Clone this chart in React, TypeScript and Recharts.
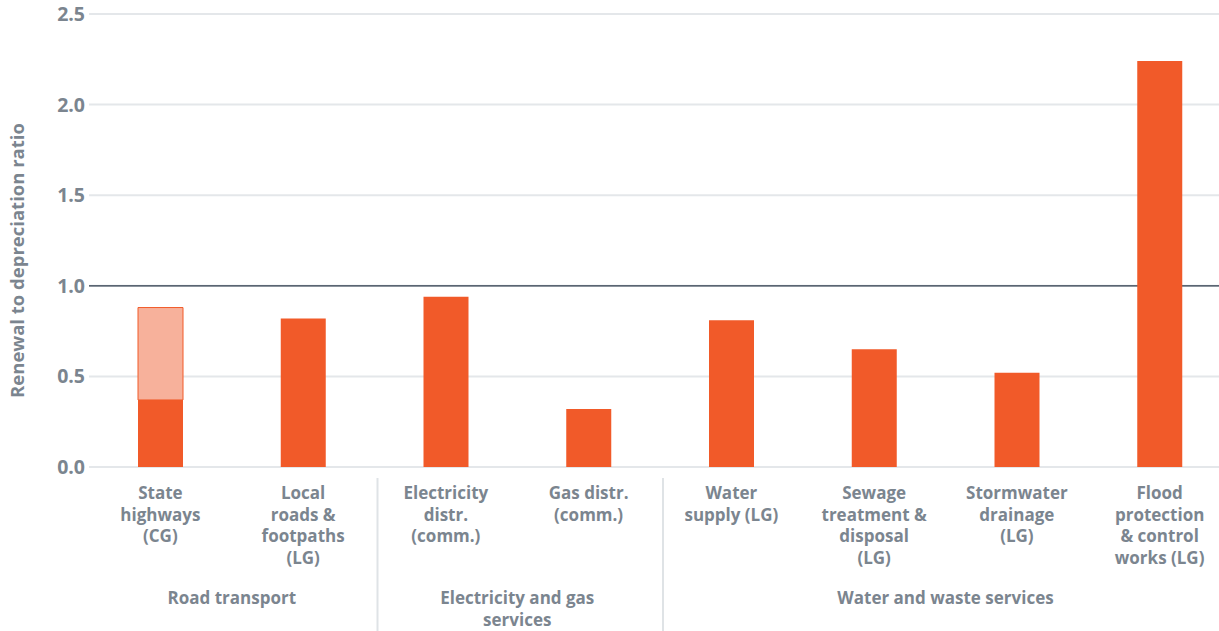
import React from 'react';
import { BarChart, Bar, XAxis, YAxis, CartesianGrid } from 'recharts';

// sector labels, one line per "\n"
const categories = [
  'State\nhighways\n(CG)',
  'Local\nroads &\nfootpaths\n(LG)',
  'Electricity\ndistr.\n(comm.)',
  'Gas distr.\n(comm.)',
  'Water\nsupply (LG)',
  'Sewage\ntreatment &\ndisposal\n(LG)',
  'Stormwater\ndrainage\n(LG)',
  'Flood\nprotection\n& control\nworks (LG)',
];

// renewal to depreciation ratio
const ratio = [0.37, 0.82, 0.94, 0.32, 0.81, 0.65, 0.52, 2.24];
// additional renewal shown on top of state highways
const extra = [0.51, null, null, null, null, null, null, null];

const groupNames = ['Road transport', 'Electricity and gas\nservices', 'Water and waste services'];
const groupSizes = [2, 2, 4];

const yTicks = [0, 0.5, 1, 1.5, 2, 2.5];
const benchmark = [1];

const data = categories.map((name, i) => ({ name, ratio: ratio[i], extra: extra[i] }));

const CHART_W = 1231;
const CHART_H = 631;
const Y_AXIS_W = 89;
const BAND = (CHART_W - Y_AXIS_W) / categories.length;

const ORANGE = '#f15a29';
const LIGHT = '#f7b19b';
const TEXT = '#7b858f';
const FONT = '"Open Sans", Lato, sans-serif';

// first category index of each group
const groupStarts = groupSizes.map((_, g) => groupSizes.slice(0, g).reduce((a, b) => a + b, 0));

const CategoryTick = (props: any) => {
  const { x, y, payload, index } = props;
  const lines = String(payload.value).split('\n');
  const g = groupStarts.indexOf(index);
  let group: React.ReactNode = null;
  if (g >= 0) {
    const cx = x + ((groupSizes[g] - 1) * BAND) / 2;
    const glines = groupNames[g].split('\n');
    group = (
      <g>
        {g > 0 && (
          <line x1={x - BAND / 2 + 3} x2={x - BAND / 2 + 3} y1={y + 3} y2={CHART_H} stroke="#dfe3e6" strokeWidth={2} />
        )}
        <text x={cx} y={y + 129} textAnchor="middle" fill={TEXT} fontSize={17} fontWeight={700} fontFamily={FONT}>
          {glines.map((l, i) => (
            <tspan key={i} x={cx} dy={i === 0 ? 0 : 21.5}>{l}</tspan>
          ))}
        </text>
      </g>
    );
  }
  return (
    <g>
      <text x={x} y={y + 24} textAnchor="middle" fill={TEXT} fontSize={17} fontWeight={700} fontFamily={FONT}>
        {lines.map((l, i) => (
          <tspan key={i} x={x} dy={i === 0 ? 0 : 21.5}>{l}</tspan>
        ))}
      </text>
      {group}
    </g>
  );
};

const YTitle = (props: any) => {
  const { viewBox } = props;
  const cy = viewBox.y + viewBox.height / 2 + 20;
  return (
    <text
      x={16}
      y={cy}
      transform={`rotate(-90, 16, ${cy})`}
      textAnchor="middle"
      dominantBaseline="central"
      fill={TEXT}
      fontSize={18.5}
      fontWeight={700}
      fontFamily={FONT}
    >
      Renewal to depreciation ratio
    </text>
  );
};

export default function App() {
  return (
    <div style={{ position: 'absolute', left: 0, top: 0, width: 1219, height: 631, overflow: 'hidden', background: '#fff' }}>
      <BarChart
        width={CHART_W}
        height={CHART_H}
        data={data}
        margin={{ top: 14, right: 0, bottom: 0, left: 0 }}
        barSize={45}
      >
        <CartesianGrid vertical={false} stroke="#e4e7ea" strokeWidth={2} />
        {/* ratio of 1.0 drawn behind the bars */}
        <CartesianGrid vertical={false} horizontalValues={benchmark} stroke="#2c3a4a" strokeWidth={1.2} />
        <XAxis
          dataKey="name"
          interval={0}
          height={164}
          axisLine={false}
          tickLine={false}
          tick={<CategoryTick />}
        />
        <YAxis
          width={Y_AXIS_W}
          domain={[0, 2.5]}
          ticks={yTicks}
          axisLine={false}
          tickLine={false}
          tickSize={0}
          tickMargin={4}
          tickFormatter={(v: number) => v.toFixed(1)}
          tick={{ fill: TEXT, fontSize: 19.5, fontWeight: 700, fontFamily: FONT }}
          label={<YTitle />}
        />
        <Bar dataKey="ratio" stackId="a" fill={ORANGE} isAnimationActive={false} />
        <Bar dataKey="extra" stackId="a" fill={LIGHT} stroke={ORANGE} strokeWidth={1} isAnimationActive={false} />
      </BarChart>
    </div>
  );
}
